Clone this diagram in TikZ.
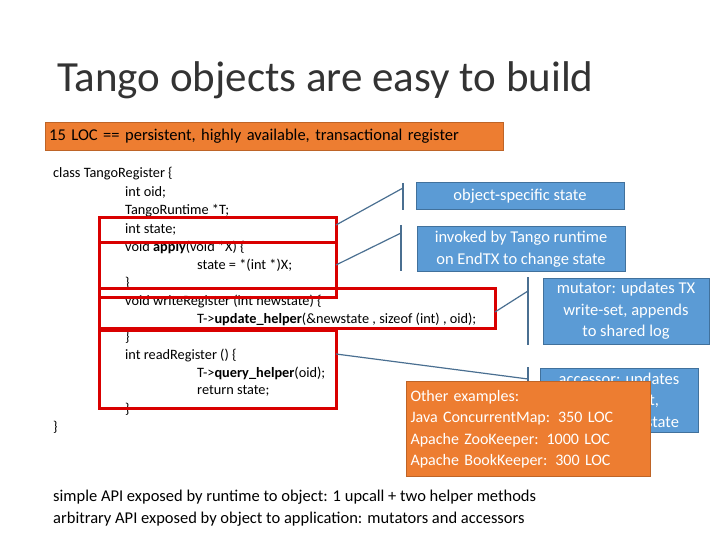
\documentclass[tikz,border=0pt]{standalone}
\usepackage{fontspec}
\setmainfont{Carlito}
\begin{document}
\begin{tikzpicture}[x=1pt,y=-1pt,
 code/.style={anchor=west,inner sep=0pt,font=\fontsize{14.3}{15}\selectfont},
 redbox/.style={draw=red!85!black,line width=3pt},
 bluebox/.style={line width=1pt,text=white,align=center,font=\fontsize{16.5}{21.5}\selectfont,inner sep=0pt},
 br/.style={line width=1.2pt}]
\useasboundingbox (0,0) rectangle (720,540);
\definecolor{tblue}{HTML}{5B9BD5}\definecolor{tbord}{HTML}{41719C}\definecolor{torange}{HTML}{ED7D31}\definecolor{tline}{HTML}{4A6F91}
\tikzset{bluebox/.append style={fill=tblue,draw=tbord}, br/.append style={draw=tline}}
\node[anchor=west,inner sep=0pt,font=\fontsize{43}{46}\selectfont,text=black!80] (title) at (57,80) {Tango objects are easy to build};
\node[anchor=west,fill=torange,draw=torange!80!black,minimum width=458,minimum height=28,text width=450,inner sep=4pt,font=\fontsize{16.5}{18}\selectfont] (loc) at (45,136) {15 LOC == persistent, highly available, transactional register};
\node[code] (c1) at (53,174) {class TangoRegister \{};
\node[code] (c2) at (125,192) {int oid;};
\node[code] (c3) at (125,211) {TangoRuntime *T;};
\node[code] (c4) at (125,229) {int state;};
\node[code] (c5) at (125,247) {void \textbf{apply}(void *X) \{};
\node[code] (c6) at (197,265) {state = *(int *)X;};
\node[code] (c7) at (125,283) {\}};
\node[code] (c8) at (125,301) {void writeRegister (int newstate) \{};
\node[code] (c9) at (197,319) {T->\textbf{update\_helper}(\&newstate , sizeof (int) , oid);};
\node[code] (c10) at (125,337) {\}};
\node[code] (c11) at (125,355) {int readRegister () \{};
\node[code] (c12) at (197,373) {T->\textbf{query\_helper}(oid);};
\node[code] (c13) at (197,391) {return state;};
\node[code] (c14) at (125,409) {\}};
\node[code] (c15) at (53,427) {\}};
% red boxes
\draw[redbox] (99,218) rectangle (336,242);
\draw[redbox] (99,242) rectangle (336,297);
\draw[redbox] (99,288) rectangle (495,328);
\draw[redbox] (99,330) rectangle (336,408);
% callouts
\coordinate (a1) at (336,225); \coordinate (b1) at (403,188);
\draw[br] (a1) -- (b1); \draw[br] (403,183) -- (403,210);
\node[bluebox,minimum width=208,minimum height=27] (o1) at (520,196) {object-specific state};
\coordinate (a2) at (336,265); \coordinate (b2) at (401,233);
\draw[br] (a2) -- (b2); \draw[br] (401,225) -- (401,271);
\node[bluebox,minimum width=208,minimum height=45] (o2) at (521,249) {invoked by Tango runtime\\on EndTX to change state};
\coordinate (a3) at (495,312); \coordinate (b3) at (528,291);
\draw[br] (a3) -- (b3); \draw[br] (528,277) -- (528,345);
\node[bluebox,minimum width=166,minimum height=66] (o3) at (626,311) {mutator: updates TX\\write-set, appends\\to shared log};
\coordinate (a4) at (336,354); \coordinate (b4) at (528,379);
\draw[br] (a4) -- (b4); \draw[br] (528,367) -- (528,420);
\node[bluebox,minimum width=158,minimum height=64] (o4) at (619,400) {accessor: updates\\TX read-set,\\returns local state};
\node[anchor=north west,fill=torange,draw=torange!80!black,line width=1pt,minimum width=244,minimum height=95,text width=236,inner sep=4pt,text=white,font=\fontsize{16}{21.5}\selectfont] (ex) at (406,381) {Other examples:\\Java ConcurrentMap: 350 LOC\\Apache ZooKeeper: 1000 LOC\\Apache BookKeeper: 300 LOC};
\node[anchor=west,inner sep=0pt,font=\fontsize{16.5}{18}\selectfont] (s1) at (53,497) {simple API exposed by runtime to object: 1 upcall + two helper methods};
\node[anchor=west,inner sep=0pt,font=\fontsize{16.5}{18}\selectfont] (s2) at (53,519) {arbitrary API exposed by object to application: mutators and accessors};
\end{tikzpicture}
\end{document}
